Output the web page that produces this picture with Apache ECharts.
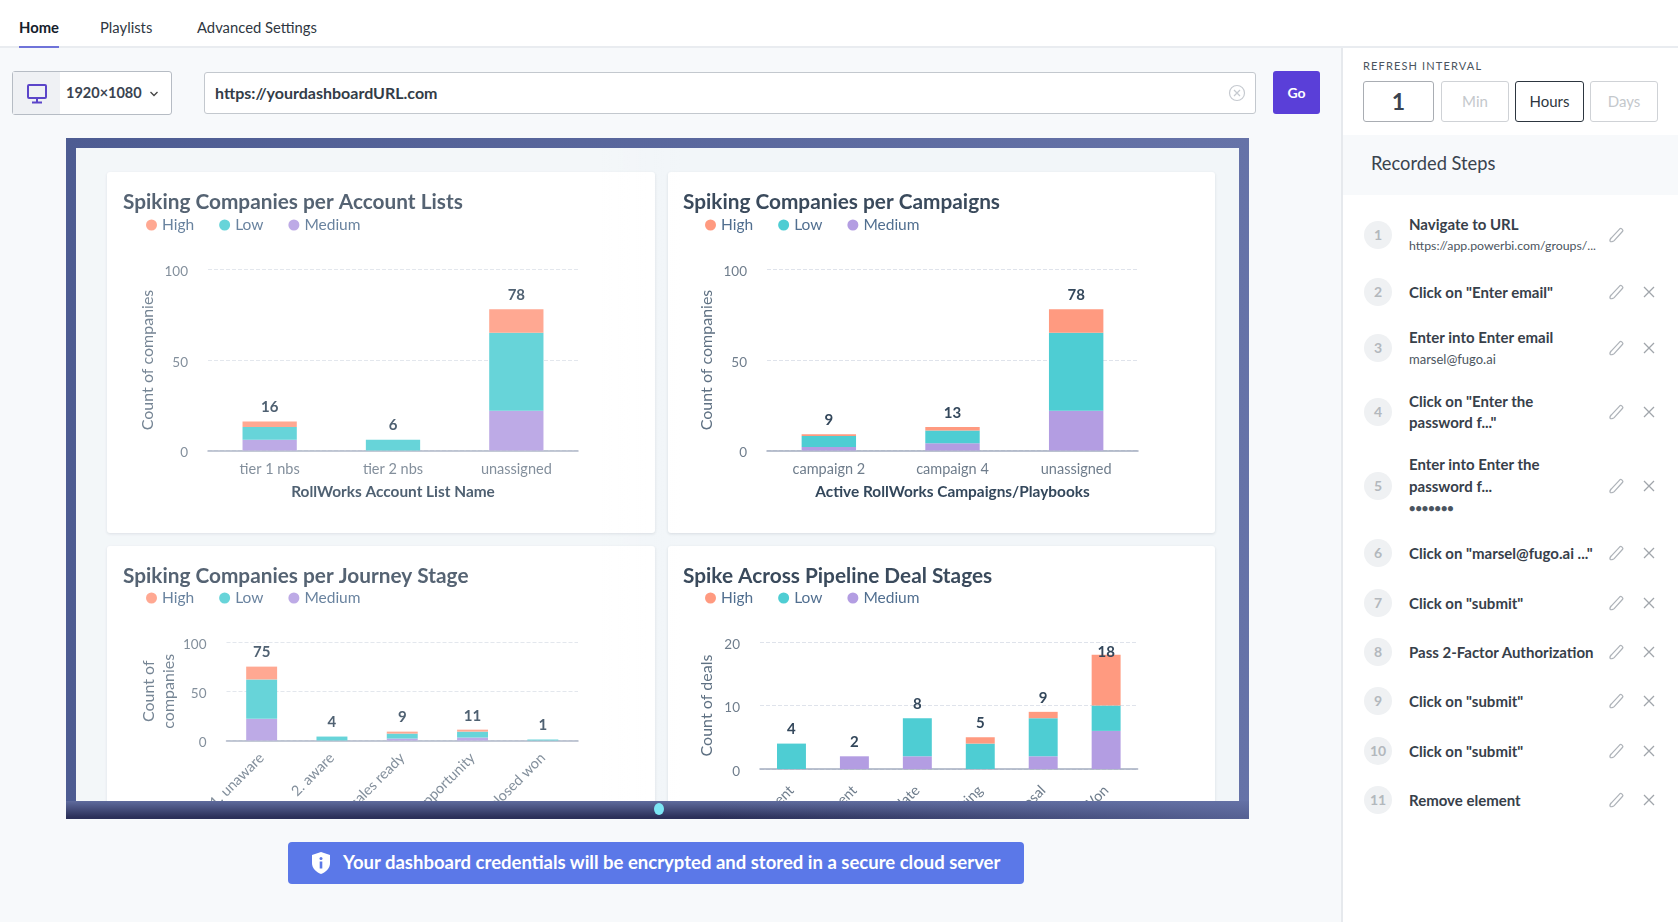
<!DOCTYPE html>
<html>
<head>
<meta charset="utf-8">
<title>Dashboard</title>
<script src="https://cdn.jsdelivr.net/npm/echarts@6/dist/echarts.min.js"></script>
<style>
  * { box-sizing: border-box; }
  html, body { margin: 0; width: 1678px; height: 922px; overflow: hidden; background: #f7f9fb; font-family: Lato, "Open Sans", sans-serif; color: #2d3640; }
  svg { display: block; }
  .abs { position: absolute; }
  #header { left: 0; top: 0; width: 1678px; height: 48px; background: #fff; border-bottom: 2px solid #e9ecf0; }
  .tab { position: absolute; top: 17px; font-size: 14.800px; line-height: 20px; color: #2f3742; white-space: nowrap; }
  #underline { left: 19px; top: 46px; width: 40px; height: 2px; background: #6f73d9; }
  #picker { left: 12px; top: 71px; width: 160px; height: 44px; background: #fff; border: 1px solid #b6bcc4; border-radius: 3px; }
  #picker .ic { position: absolute; left: 0; top: 0; width: 47px; height: 42px; background: #eff1f4; }
  #picker .tx { position: absolute; left: 53px; top: 11px; font-size: 14.500px; line-height: 20px; font-weight: 700; color: #3a4350; }
  #url { left: 204px; top: 72px; width: 1052px; height: 42px; background: #fff; border: 1px solid #c3c8ce; border-radius: 3px; padding: 10px; font-size: 16px; line-height: 20px; font-weight: 700; color: #333c47; }
  #go { left: 1273px; top: 71px; width: 47px; height: 43px; background: #5a3fd8; border-radius: 3px; color: #fff; font-size: 14px; font-weight: 700; text-align: center; line-height: 43px; }
  #frame { left: 66px; top: 138px; width: 1183px; height: 681px; background: linear-gradient(to right, #4d5c92, #6673a8); }
  #frameBottom { left: 66px; top: 801px; width: 1183px; height: 18px; background: linear-gradient(to bottom, #5f6b9d, #2b3059 90%); }
  #frameBottomR { left: 66px; top: 801px; width: 1183px; height: 18px; background: linear-gradient(to right, rgba(102,115,168,0) 55%, rgba(102,115,168,.75)); }
  #screen { left: 76px; top: 148px; width: 1163px; height: 653px; background: #f2f6f9; overflow: hidden; }
  .card { position: absolute; background: #fff; border-radius: 3px; box-shadow: 0 1px 3px rgba(60,70,90,.14); }
  #chart { position: absolute; left: 0; top: 0; width: 1163px; height: 653px; }
  #wash { position: absolute; left: 0; top: 0; width: 1163px; height: 653px; pointer-events: none; background: linear-gradient(to right, rgba(255,255,255,.14) 0%, rgba(255,255,255,.14) 45%, rgba(255,255,255,0) 52%); }
  #dot { left: 654px; top: 803px; width: 10px; height: 12px; border-radius: 50%; background: #7ce6f4; }
  #banner { left: 288px; top: 842px; width: 736px; height: 42px; background: #5b78e8; border-radius: 4px; color: #fff; font-size: 18.500px; line-height: 40px; font-weight: 700; padding-left: 55px; white-space: nowrap; }
  #banner svg { position: absolute; left: 22px; top: 9px; }
  #side { left: 1341px; top: 48px; width: 337px; height: 874px; background: #fff; border-left: 2px solid #e6e9ed; }
  #ri { left: 1363px; top: 59px; font-size: 11px; letter-spacing: 1.150px; line-height: 14px; color: #4b5560; }
  .btn { position: absolute; top: 81px; height: 41px; border: 1px solid #cfd2d6; border-radius: 3px; background: #fff; text-align: center; line-height: 39px; font-size: 15px; color: #c4c8cc; }
  #band { left: 1343px; top: 135px; width: 335px; height: 60px; background: #f7f9fb; }
  #rs { left: 1371px; top: 151px; font-size: 18.300px; line-height: 24px; color: #39434e; }
  .num { position: absolute; left: 1364px; width: 28px; height: 28px; border-radius: 50%; background: #eff1f3; text-align: center; line-height: 28px; font-size: 14px; font-weight: 700; color: #b3b8bd; }
  .stp { position: absolute; left: 1409px; font-size: 15px; line-height: 21px; font-weight: 700; color: #37404a; white-space: nowrap; }
  .sub { position: absolute; left: 1409px; font-size: 13px; line-height: 18px; color: #4b5560; white-space: nowrap; }
  .dots { position: absolute; left: 1409px; font-size: 11px; line-height: 18px; font-weight: 900; color: #4b5560; white-space: nowrap; }
  .ico { position: absolute; }
</style>
</head>
<body>
<div id="header" class="abs"></div>
<div id="underline" class="abs"></div>
<div class="tab" style="left:19px;font-weight:700;color:#15202b">Home</div>
<div class="tab" style="left:100px">Playlists</div>
<div class="tab" style="left:197px">Advanced Settings</div>

<div id="picker" class="abs">
  <div class="ic"><svg width="47" height="42" viewBox="0 0 47 42"><rect x="15" y="13" width="18" height="13" rx="1" fill="none" stroke="#5b45c9" stroke-width="2"/><path d="M24 26v4M19 30.500h10" stroke="#5b45c9" stroke-width="2"/></svg></div>
  <div class="tx">1920×1080</div>
  <svg style="position:absolute;left:136px;top:18px" width="10" height="8" viewBox="0 0 10 8"><path d="M1.500 2l3.500 3.500L8.500 2" fill="none" stroke="#444" stroke-width="1.300"/></svg>
</div>
<div id="url" class="abs">https://yourdashboardURL.com
  <svg style="position:absolute;right:9px;top:11px" width="18" height="18" viewBox="0 0 18 18"><circle cx="9" cy="9" r="7.500" fill="none" stroke="#c6cad0" stroke-width="1.200"/><path d="M6 6l6 6M12 6l-6 6" stroke="#c6cad0" stroke-width="1.200"/></svg>
</div>
<div id="go" class="abs">Go</div>

<div id="frame" class="abs"></div>
<div id="screen" class="abs">
  <div class="card" style="left:31px;top:24px;width:548px;height:361px"></div>
  <div class="card" style="left:592px;top:24px;width:547px;height:361px"></div>
  <div class="card" style="left:31px;top:398px;width:548px;height:300px"></div>
  <div class="card" style="left:592px;top:398px;width:547px;height:300px"></div>
  <div id="chart"></div>
  <div id="wash"></div>
</div>
<div id="frameBottom" class="abs"></div>
<div id="frameBottomR" class="abs"></div>
<div id="dot" class="abs"></div>

<div id="banner" class="abs">
  <svg width="22" height="24" viewBox="0 0 22 24"><path d="M11 1l9 3v8c0 5.500-4 9-9 11-5-2-9-5.500-9-11V4z" fill="#fff"/><circle cx="11" cy="7.500" r="1.500" fill="#5b78e8"/><rect x="9.700" y="10.500" width="2.600" height="7" fill="#5b78e8"/></svg>
  Your dashboard credentials will be encrypted and stored in a secure cloud server
</div>

<div id="side" class="abs"></div>
<div id="ri" class="abs">REFRESH INTERVAL</div>
<div class="btn" style="left:1363px;width:71px;font-size:23px;font-weight:700;color:#3a4350;border-color:#a9adb3">1</div>
<div class="btn" style="left:1441px;width:68px">Min</div>
<div class="btn" style="left:1515px;width:69px;color:#2d3640;border:1.500px solid #2d3640">Hours</div>
<div class="btn" style="left:1590px;width:68px">Days</div>
<div id="band" class="abs"></div>
<div id="rs" class="abs">Recorded Steps</div>
<div id="steps"></div>

<script>
// chart data
const seriesNames = ['High', 'Low', 'Medium'];
const seriesColors = ['#ff9a80', '#4ecdd3', '#b39de2'];

const accountCats = ['tier 1 nbs', 'tier 2 nbs', 'unassigned'];
const accountHigh = [3, 0, 13];
const accountLow = [7, 6, 43];
const accountMedium = [6, 0, 22];
const accountTotal = [16, 6, 78];

const campaignCats = ['campaign 2', 'campaign 4', 'unassigned'];
const campaignHigh = [1, 2, 13];
const campaignLow = [6, 7, 43];
const campaignMedium = [2, 4, 22];
const campaignTotal = [9, 13, 78];

const journeyCats = ['1. unaware', '2. aware', '3. sales ready', '4. opportunity', '5. closed won'];
const journeyHigh = [13, 0, 2, 2, 0];
const journeyLow = [40, 4, 5, 6, 1];
const journeyMedium = [22, 0, 2, 3, 0];
const journeyTotal = [75, 4, 9, 11, 1];

const dealCats = ['Appointment', 'Assessment', 'Candidate', 'Booking', 'Proposal', 'Closed Won'];
const dealHigh = [0, 0, 0, 1, 1, 8];
const dealLow = [4, 0, 6, 4, 6, 4];
const dealMedium = [0, 2, 2, 0, 2, 6];
const dealTotal = [4, 2, 8, 5, 9, 18];

// side panel text
const stepLines = [
  ['Navigate to URL', 'https://app.powerbi.com/groups/...'],
  ['Click on "Enter email"'],
  ['Enter into Enter email', 'marsel@fugo.ai'],
  ['Click on "Enter the', 'password f..."'],
  ['Enter into Enter the', 'password f...', '•••••••'],
  ['Click on "marsel@fugo.ai ..."'],
  ['Click on "submit"'],
  ['Pass 2-Factor Authorization'],
  ['Click on "submit"'],
  ['Click on "submit"'],
  ['Remove element']
];
const stepCenters = [235, 292, 348, 412, 486, 553, 603, 652, 701, 751, 800];

const penSvg = '<svg width="18" height="18" viewBox="0 0 16 16"><path d="M3 10.500L10.500 2.500c1-1 3.500 1 2.500 2.200L5.500 13c-1 1-3 1.200-3.500 .8-.4-.6 0-2.300 1-3.300z" fill="none" stroke="#aeb3b9" stroke-width="1.100"/></svg>';
const crossSvg = '<svg width="12" height="12" viewBox="0 0 12 12"><path d="M1 1l10 10M11 1L1 11" stroke="#a0a5ab" stroke-width="1.300"/></svg>';

let html = '';
stepLines.forEach(function (lines, i) {
  const c = stepCenters[i];
  html += '<div class="num" style="top:' + (c - 14) + 'px">' + (i + 1) + '</div>';
  html += '<div class="ico" style="left:1608px;top:' + (c - 9) + 'px">' + penSvg + '</div>';
  if (i > 0) html += '<div class="ico" style="left:1643px;top:' + (c - 6) + 'px">' + crossSvg + '</div>';
  const step = 21.5;
  const start = c - (lines.length - 1) * step / 2;
  lines.forEach(function (l, n) {
    const y = start + n * step;
    let cls = 'sub';
    if (n === 0 || l.indexOf('password') === 0) cls = 'stp';
    if (l.charAt(0) === '•') cls = 'dots';
    const extra = l.indexOf('https') === 0 ? ';font-size:12.3px' : '';
    html += '<div class="' + cls + '" style="top:' + (y - (cls === 'stp' ? 10.5 : 9)) + 'px' + extra + '">' + l.replace(/"/g, '&quot;') + '</div>';
  });
});
document.getElementById('steps').innerHTML = html;

// one canvas over the whole screen, page coordinates shifted by its corner
const ox = 76, oy = 148;
const font = 'Lato';
const panels = [
  {title: 'Spiking Companies per Account Lists', titleX: 123, titleY: 192, legendX: 146, legendY: 217,
    cats: accountCats, high: accountHigh, low: accountLow, medium: accountMedium, total: accountTotal,
    x0: 208, x1: 578, y0: 269.5, y1: 450.5, max: 100, iv: 50, yName: 'Count of companies', nameGap: 50,
    xName: 'RollWorks Account List Name', xNameGap: 34, rotate: 0, margin: 11},
  {title: 'Spiking Companies per Campaigns', titleX: 683, titleY: 192, legendX: 705, legendY: 217,
    cats: campaignCats, high: campaignHigh, low: campaignLow, medium: campaignMedium, total: campaignTotal,
    x0: 767, x1: 1138, y0: 269.5, y1: 450.5, max: 100, iv: 50, yName: 'Count of companies', nameGap: 50,
    xName: 'Active RollWorks Campaigns/Playbooks', xNameGap: 34, rotate: 0, margin: 11},
  {title: 'Spiking Companies per Journey Stage', titleX: 123, titleY: 566, legendX: 146, legendY: 590,
    cats: journeyCats, high: journeyHigh, low: journeyLow, medium: journeyMedium, total: journeyTotal,
    x0: 226.5, x1: 578, y0: 642, y1: 740.5, max: 100, iv: 50, yName: 'Count of\ncompanies', nameGap: 42,
    xName: '', xNameGap: 0, rotate: 45, margin: 15},
  {title: 'Spike Across Pipeline Deal Stages', titleX: 683, titleY: 566, legendX: 705, legendY: 590,
    cats: dealCats, high: dealHigh, low: dealLow, medium: dealMedium, total: dealTotal,
    x0: 760, x1: 1137.6, y0: 642, y1: 769, max: 20, iv: 10, yName: 'Count of deals', nameGap: 43,
    xName: '', xNameGap: 0, rotate: 45, margin: 19}
];

const option = {animation: false, title: [], legend: [], grid: [], xAxis: [], yAxis: [], series: []};

panels.forEach(function (p, i) {
  option.title.push({
    text: p.title, left: p.titleX - ox, top: p.titleY - oy, padding: 0,
    textStyle: {fontFamily: font, fontSize: 20.8, fontWeight: 700, color: '#3a4a5c'}
  });
  option.legend.push({
    data: seriesNames, left: p.legendX - ox, top: p.legendY - oy, padding: 0, icon: 'circle',
    itemWidth: 11, itemHeight: 11, itemGap: 25,
    textStyle: {fontFamily: font, fontSize: 15.5, color: '#516f90'}
  });
  option.grid.push({left: p.x0 - ox, top: p.y0 - oy, width: p.x1 - p.x0, height: p.y1 - p.y0, outerBoundsMode: 'none'});
  option.xAxis.push({
    type: 'category', gridIndex: i, data: p.cats,
    name: p.xName, nameLocation: 'middle', nameGap: p.xNameGap,
    nameTextStyle: {fontFamily: font, fontSize: 15.4, fontWeight: 700, color: '#33475b'},
    axisTick: {show: false},
    axisLine: {lineStyle: {color: '#a4adc0', width: 1.5}},
    axisLabel: {interval: 0, rotate: p.rotate, margin: p.margin, fontFamily: font, fontSize: 14.5, color: '#6f7d8c'}
  });
  option.yAxis.push({
    type: 'value', gridIndex: i, min: 0, max: p.max, interval: p.iv,
    name: p.yName, nameLocation: 'middle', nameGap: p.nameGap, nameRotate: 90,
    nameTextStyle: {fontFamily: font, fontSize: 16, color: '#5f7183', lineHeight: 20},
    axisLine: {show: false}, axisTick: {show: false},
    axisLabel: {
      margin: 20, formatter: '{t|{value}}',
      rich: {t: {fontFamily: font, fontSize: 13.5, color: '#6f7d8c', padding: [5, 0, 0, 0]}}
    },
    splitLine: {lineStyle: {type: 'dashed', color: '#dfe3eb', width: 1}}
  });
  const stack = 'stack' + i;
  [['Medium', p.medium, 2], ['Low', p.low, 1], ['High', p.high, 0]].forEach(function (s) {
    option.series.push({
      name: s[0], type: 'bar', stack: stack, xAxisIndex: i, yAxisIndex: i,
      barWidth: i === 3 ? '46%' : '44%', data: s[1],
      itemStyle: {color: seriesColors[s[2]]}
    });
  });
  // invisible line only to carry the total labels
  option.series.push({
    name: 'Total', type: 'line', xAxisIndex: i, yAxisIndex: i,
    symbol: 'circle', symbolSize: 1, silent: true,
    lineStyle: {color: 'transparent'}, itemStyle: {color: 'transparent'},
    data: p.total.map(function (v) {
      return {value: v, label: {offset: [0, v === 18 ? 11 : 0]}};
    }),
    label: {show: true, position: 'top', distance: 6, fontFamily: font, fontSize: 15, fontWeight: 700, color: '#33475b'}
  });
});

const chart = echarts.init(document.getElementById('chart'));
chart.setOption(option);
</script>
</body>
</html>
